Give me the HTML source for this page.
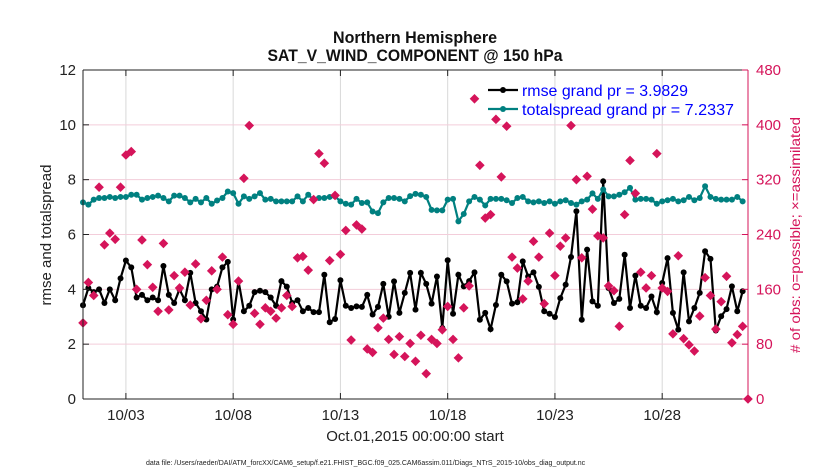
<!DOCTYPE html>
<html><head><meta charset="utf-8">
<style>
body{margin:0;background:#fff;}
svg{display:block;font-family:"Liberation Sans",Arial,sans-serif;}
</style></head>
<body>
<svg id="chart" width="830" height="470" viewBox="0 0 830 470" xmlns="http://www.w3.org/2000/svg">
<rect width="830" height="470" fill="#fff"/>
<text x="415" y="43" text-anchor="middle" font-size="17" font-weight="bold" fill="#111" textLength="164" lengthAdjust="spacingAndGlyphs">Northern Hemisphere</text>
<text x="415" y="61" text-anchor="middle" font-size="17" font-weight="bold" fill="#111" textLength="295" lengthAdjust="spacingAndGlyphs">SAT_V_WIND_COMPONENT @ 150 hPa</text>
<g id="grid"></g>
<g id="series"></g>
<g id="axes"></g>
</svg>
<script>
const dateTicks = [2, 7, 12, 17, 22, 27];
const dateTickLabels = ["10/03","10/08","10/13","10/18","10/23","10/28"];
const leftTicks = [0,2,4,6,8,10,12];
const rightTicks = [0,80,160,240,320,400,480];
const rmse = [3.42,4.05,3.9,4.0,3.5,4.0,3.6,4.4,5.05,4.8,3.7,3.8,3.6,3.7,3.6,4.85,3.8,3.5,4.0,3.6,4.6,3.5,3.2,2.9,4.0,4.1,4.8,5.0,2.9,4.3,3.2,3.4,3.9,3.95,3.9,3.7,3.4,4.3,4.1,3.5,3.6,3.2,3.32,
3.17,3.17,4.53,2.8,2.92,4.33,3.4,3.32,3.38,3.36,3.8,3.08,3.36,4.2,3.0,4.29,3.14,3.87,4.6,3.26,4.6,4.2,3.48,4.47,2.59,5.06,3.11,4.53,4.11,4.3,4.62,2.89,3.14,2.55,3.43,4.53,4.29,3.48,3.53,
5.02,4.47,4.62,4.09,3.2,3.11,2.99,3.68,4.17,5.18,6.85,2.89,5.45,3.56,3.4,7.94,4.05,3.5,3.65,5.26,3.32,4.5,3.4,3.32,3.74,3.17,4.23,5.14,3.14,2.53,4.62,2.83,3.32,3.87,5.39,5.11,2.5,3.02,3.28,4.11,3.2,3.93];
const spread = [7.17,7.09,7.27,7.33,7.33,7.37,7.33,7.37,7.37,7.45,7.45,7.27,7.33,7.37,7.42,7.33,7.21,7.42,7.42,7.33,7.17,7.3,7.17,7.33,7.12,7.24,7.33,7.57,7.51,7.12,7.39,7.3,7.39,7.51,7.27,7.3,7.21,7.21,7.21,7.21,7.39,
7.21,7.45,7.27,7.33,7.33,7.37,7.39,7.21,7.12,7.09,7.3,7.15,7.17,6.84,6.78,7.17,7.33,7.33,7.3,7.21,7.4,7.48,7.45,7.37,6.9,6.88,6.88,7.27,7.3,6.48,6.75,7.21,7.37,7.27,7.06,7.3,7.3,7.3,7.25,7.15,7.33,
7.37,7.21,7.17,7.21,7.15,7.21,7.12,7.21,7.25,7.15,7.09,7.21,7.27,7.5,7.3,7.64,7.39,7.39,7.45,7.54,7.7,7.27,7.3,7.3,7.27,7.12,7.21,7.25,7.3,7.21,7.25,7.37,7.25,7.33,7.76,7.37,7.3,7.27,7.27,7.27,7.37,7.21];
const nobs = [111,170,151,309,225,242,233,309,356,361,160,232,196,163,128,227,130,180,162,185,137,197,117,144,187,160,207,123,109,172,322,399,125,109,133,128,118,133,151,135,206,208,188,
291,358,344,202,297,211,246,86,254,248,73,68,104,118,87,65,91,62,81,55,93,37,87,81,101,135,87,60,133,165,438,341,264,269,408,324,398,207,191,
146,172,230,207,139,242,180,223,235,399,320,206,325,277,238,235,165,158,106,269,348,300,185,162,180,358,162,157,95,209,88,79,70,121,177,151,102,142,179,82,94,106,0];

const NS="http://www.w3.org/2000/svg";
const X0=83, X1=748, Y0=399, Y1=70, DAYS=31;
const xs = t => X0 + (t/4)*(X1-X0)/DAYS;
const xd = d => X0 + d*(X1-X0)/DAYS;
const yl = v => Y0 - v*(Y0-Y1)/12;
const yr = v => Y0 - v*(Y0-Y1)/480;
function mk(tag, attrs, parent){const e=document.createElementNS(NS,tag);for(const k in attrs)e.setAttribute(k,attrs[k]);parent.appendChild(e);return e;}
const grid=document.getElementById('grid'), ser=document.getElementById('series'), ax=document.getElementById('axes');
const PINK="#d5145a";

dateTicks.forEach(d=>{const l=mk('line',{x1:xd(d),x2:xd(d),y1:Y1,y2:Y0,stroke:'#d8d8d8','stroke-width':1},grid);

});
rightTicks.forEach(v=>{if(v===0||v===480)return;const l=mk('line',{x1:X0,x2:X1,y1:yr(v),y2:yr(v),stroke:'#f3cdda','stroke-width':1},grid);

});

let p='';rmse.forEach((v,i)=>{p+=(i?'L':'M')+xs(i).toFixed(1)+' '+yl(v).toFixed(1);});
const rl=mk('path',{d:p,fill:'none',stroke:'#000','stroke-width':2.2},ser);


let q='';spread.forEach((v,i)=>{q+=(i?'L':'M')+xs(i).toFixed(1)+' '+yl(v).toFixed(1);});
const sl=mk('path',{d:q,fill:'none',stroke:'#008080','stroke-width':2.2},ser);


spread.forEach((v,i)=>{const c=mk('circle',{cx:xs(i),cy:yl(v),r:3,fill:'#008080'},ser);

});
rmse.forEach((v,i)=>{const c=mk('circle',{cx:xs(i),cy:yl(v),r:3,fill:'#000'},ser);

});
nobs.forEach((v,i)=>{const x=xs(i),y=yr(v),s=4.8;const d=mk('polygon',{points:`${x},${y-s} ${x+s},${y} ${x},${y+s} ${x-s},${y}`,fill:PINK},ser);

});

mk('line',{x1:X0,x2:X1,y1:Y1,y2:Y1,stroke:'#222','stroke-width':1},ax);
mk('line',{x1:X0,x2:X1,y1:Y0,y2:Y0,stroke:'#222','stroke-width':1},ax);
mk('line',{x1:X0,x2:X0,y1:Y1,y2:Y0,stroke:'#222','stroke-width':1},ax);
mk('line',{x1:X1,x2:X1,y1:Y1,y2:Y0,stroke:PINK,'stroke-width':1},ax);
dateTicks.forEach((d,i)=>{mk('line',{x1:xd(d),x2:xd(d),y1:Y0,y2:Y0-6,stroke:'#222'},ax);mk('line',{x1:xd(d),x2:xd(d),y1:Y1,y2:Y1+6,stroke:'#222'},ax);
const t=mk('text',{x:xd(d),y:Y0+21,'text-anchor':'middle','font-size':15,fill:'#222'},ax);t.textContent=dateTickLabels[i];

});
leftTicks.forEach(v=>{mk('line',{x1:X0,x2:X0+6,y1:yl(v),y2:yl(v),stroke:'#222'},ax);
const t=mk('text',{x:X0-7,y:yl(v)+5,'text-anchor':'end','font-size':15,fill:'#222'},ax);t.textContent=v;

});
rightTicks.forEach(v=>{mk('line',{x1:X1,x2:X1-6,y1:yr(v),y2:yr(v),stroke:PINK},ax);
const t=mk('text',{x:X1+8,y:yr(v)+5,'text-anchor':'start','font-size':15,fill:PINK},ax);t.textContent=v;

});

let a=mk('text',{x:415,y:441,'text-anchor':'middle','font-size':15,fill:'#222'},ax);a.textContent='Oct.01,2015 00:00:00 start';


a=mk('text',{x:0,y:0,'text-anchor':'middle','font-size':15,fill:'#222',transform:'translate(51,235) rotate(-90)'},ax);a.textContent='rmse and totalspread';


a=mk('text',{x:0,y:0,'text-anchor':'middle','font-size':14,fill:PINK,transform:'translate(800,235) rotate(-90)',textLength:'236',lengthAdjust:'spacingAndGlyphs'},ax);a.textContent='# of obs: o=possible; \u00d7=assimilated';


a=mk('text',{x:146,y:465,'font-size':7,fill:'#222'},ax);a.textContent='data file: /Users/raeder/DAI/ATM_forcXX/CAM6_setup/f.e21.FHIST_BGC.f09_025.CAM6assim.011/Diags_NTrS_2015-10/obs_diag_output.nc';



const lg=mk('g',{},ax);


mk('line',{x1:488,x2:518,y1:90,y2:90,stroke:'#000','stroke-width':2.2},lg);
mk('circle',{cx:503,cy:90,r:3,fill:'#000'},lg);
mk('line',{x1:488,x2:518,y1:109,y2:109,stroke:'#008080','stroke-width':2.2},lg);
mk('circle',{cx:503,cy:109,r:3,fill:'#008080'},lg);
a=mk('text',{x:522,y:96,'font-size':16,fill:'#0000ff',textLength:'166',lengthAdjust:'spacingAndGlyphs'},lg);a.textContent='rmse grand pr = 3.9829';


a=mk('text',{x:522,y:115,'font-size':16,fill:'#0000ff',textLength:'212',lengthAdjust:'spacingAndGlyphs'},lg);a.textContent='totalspread grand pr = 7.2337';


</script>
</body></html>
